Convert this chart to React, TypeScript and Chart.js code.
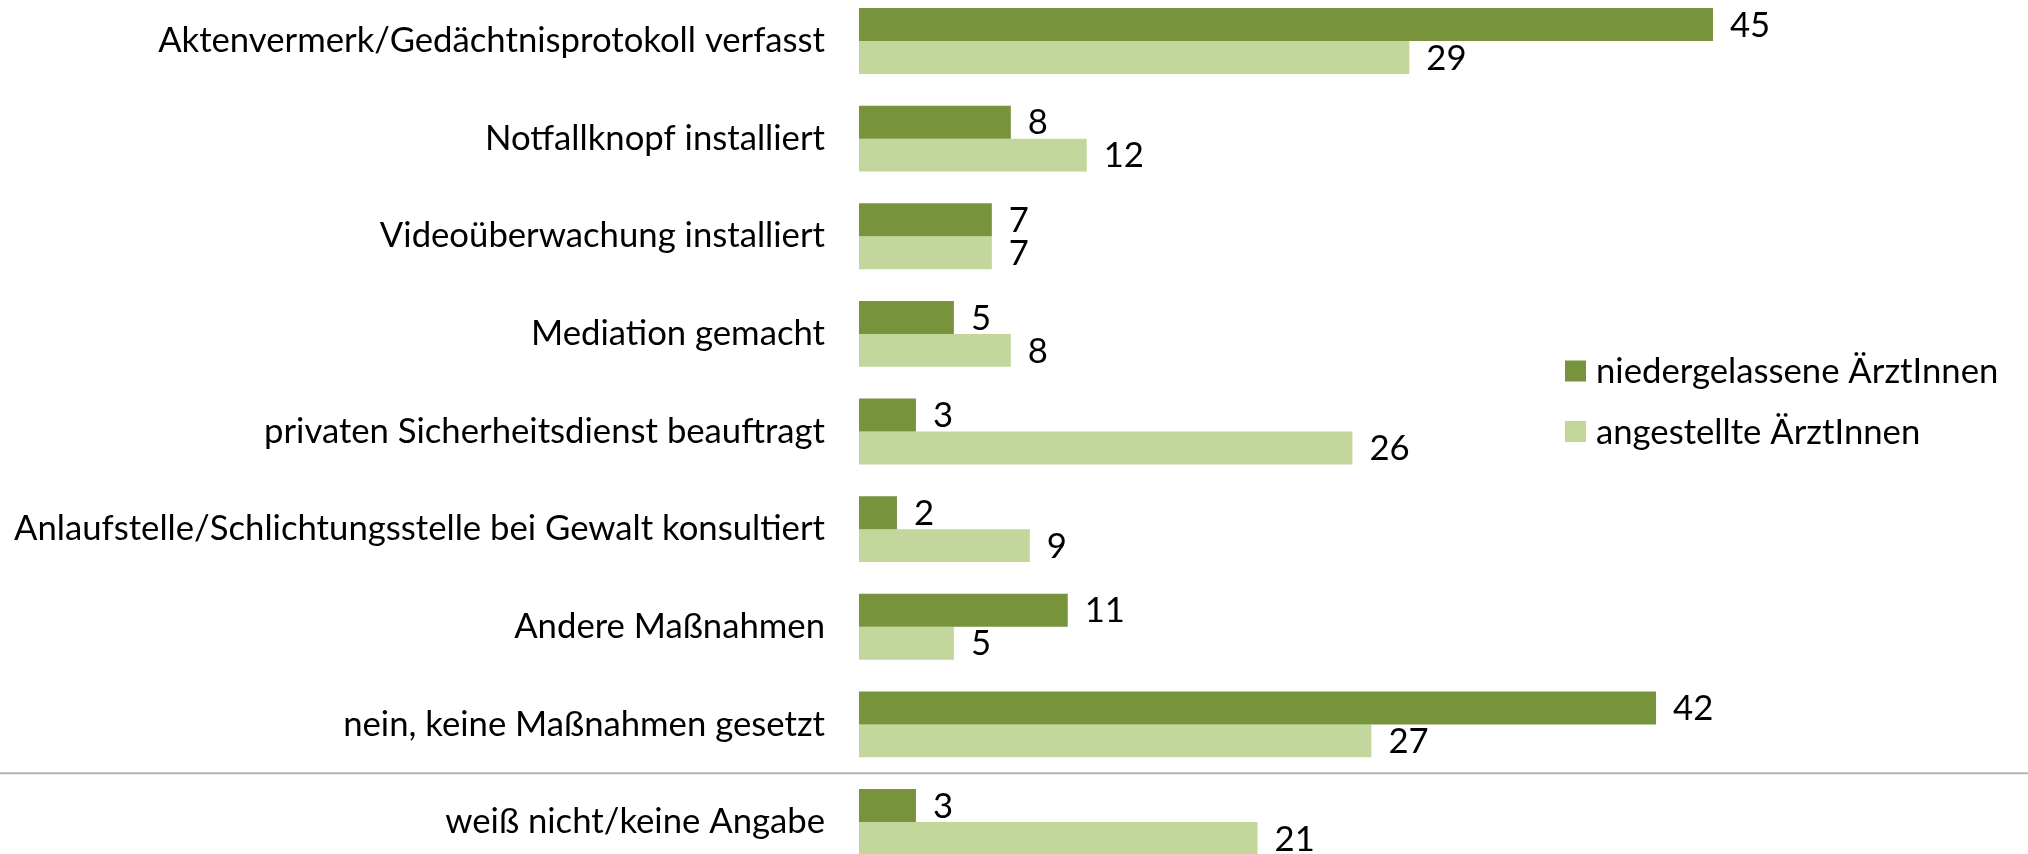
import React, { useEffect, useRef } from "react";
import { Chart, registerables } from "chart.js";

Chart.register(...registerables);

const categories = [
  "Aktenvermerk/Gedächtnisprotokoll verfasst",
  "Notfallknopf installiert",
  "Videoüberwachung installiert",
  "Mediation gemacht",
  "privaten Sicherheitsdienst beauftragt",
  "Anlaufstelle/Schlichtungsstelle bei Gewalt konsultiert",
  "Andere Maßnahmen",
  "nein, keine Maßnahmen gesetzt",
  "weiß nicht/keine Angabe",
];
const niedergelassene = [45, 8, 7, 5, 3, 2, 11, 42, 3];
const angestellte = [29, 12, 7, 8, 26, 9, 5, 27, 21];
const seriesNames = ["niedergelassene ÄrztInnen", "angestellte ÄrztInnen"];

const DARK = "#77933C";
const LIGHT = "#C3D69B";
const FONT = "Lato";
const FONT_SIZE = 34.7;

const valueLabels = {
  id: "valueLabels",
  afterDatasetsDraw(chart: any) {
    const ctx = chart.ctx;
    ctx.save();
    ctx.font = `${FONT_SIZE}px ${FONT}`;
    ctx.fillStyle = "#000";
    ctx.textAlign = "left";
    ctx.textBaseline = "middle";
    chart.data.datasets.forEach((ds: any, di: number) => {
      const meta = chart.getDatasetMeta(di);
      meta.data.forEach((el: any, i: number) => {
        ctx.fillText(String(ds.data[i]), el.x + 17, el.y + 1);
      });
    });
    ctx.restore();
  },
};

const separator = {
  id: "separator",
  afterDraw(chart: any) {
    const y = chart.scales.y;
    const n = categories.length;
    const py = (y.getPixelForValue(n - 2) + y.getPixelForValue(n - 1)) / 2;
    const ctx = chart.ctx;
    ctx.save();
    ctx.strokeStyle = "#B4B4B4";
    ctx.lineWidth = 2;
    ctx.beginPath();
    ctx.moveTo(0, py);
    ctx.lineTo(chart.width, py);
    ctx.stroke();
    ctx.restore();
  },
};

const customLegend = {
  id: "customLegend",
  afterDraw(chart: any) {
    const ctx = chart.ctx;
    ctx.save();
    ctx.font = `${FONT_SIZE}px ${FONT}`;
    ctx.textAlign = "left";
    ctx.textBaseline = "middle";
    const x0 = 1565;
    const ys = [371, 431.5];
    chart.data.datasets.forEach((ds: any, i: number) => {
      ctx.fillStyle = ds.backgroundColor;
      ctx.fillRect(x0, ys[i] - 10.5, 21, 21);
      ctx.fillStyle = "#000";
      ctx.fillText(ds.label, x0 + 31, ys[i] + 1);
    });
    ctx.restore();
  },
};

export default function App() {
  const ref = useRef<HTMLCanvasElement | null>(null);
  useEffect(() => {
    if (!ref.current) return;
    const chart = new Chart(ref.current, {
      type: "bar",
      data: {
        labels: categories,
        datasets: [
          {
            label: seriesNames[0],
            data: niedergelassene,
            backgroundColor: DARK,
            clip: false as any,
            categoryPercentage: 0.676,
            barPercentage: 1.0,
          },
          {
            label: seriesNames[1],
            data: angestellte,
            backgroundColor: LIGHT,
            clip: false as any,
            categoryPercentage: 0.676,
            barPercentage: 1.0,
          },
        ],
      },
      options: {
        indexAxis: "y",
        animation: false,
        responsive: false,
        maintainAspectRatio: false,
        layout: { autoPadding: false, padding: { top: 41, bottom: 32, left: 0, right: 0 } },
        plugins: {
          legend: { display: false },
          tooltip: { enabled: false },
        },
        scales: {
          x: { type: "linear", display: false, min: 0, max: 61.6 },
          y: {
            type: "category",
            offset: false,
            grid: { display: false, drawTicks: false },
            border: { display: false },
            ticks: {
              autoSkip: false,
              color: "#000",
              padding: 34,
              font: { family: FONT, size: FONT_SIZE },
            },
            afterFit(scale: any) {
              scale.width = 859;
              scale.paddingTop = 0;
              scale.paddingBottom = 0;
            },
          },
        },
      },
      plugins: [valueLabels, separator, customLegend],
    });
    return () => chart.destroy();
  }, []);
  return (
    <div style={{ position: "fixed", left: 0, top: 0, width: 2028, height: 854, background: "#fff" }}>
      <canvas ref={ref} width={2028} height={854} style={{ width: 2028, height: 854 }} />
    </div>
  );
}
